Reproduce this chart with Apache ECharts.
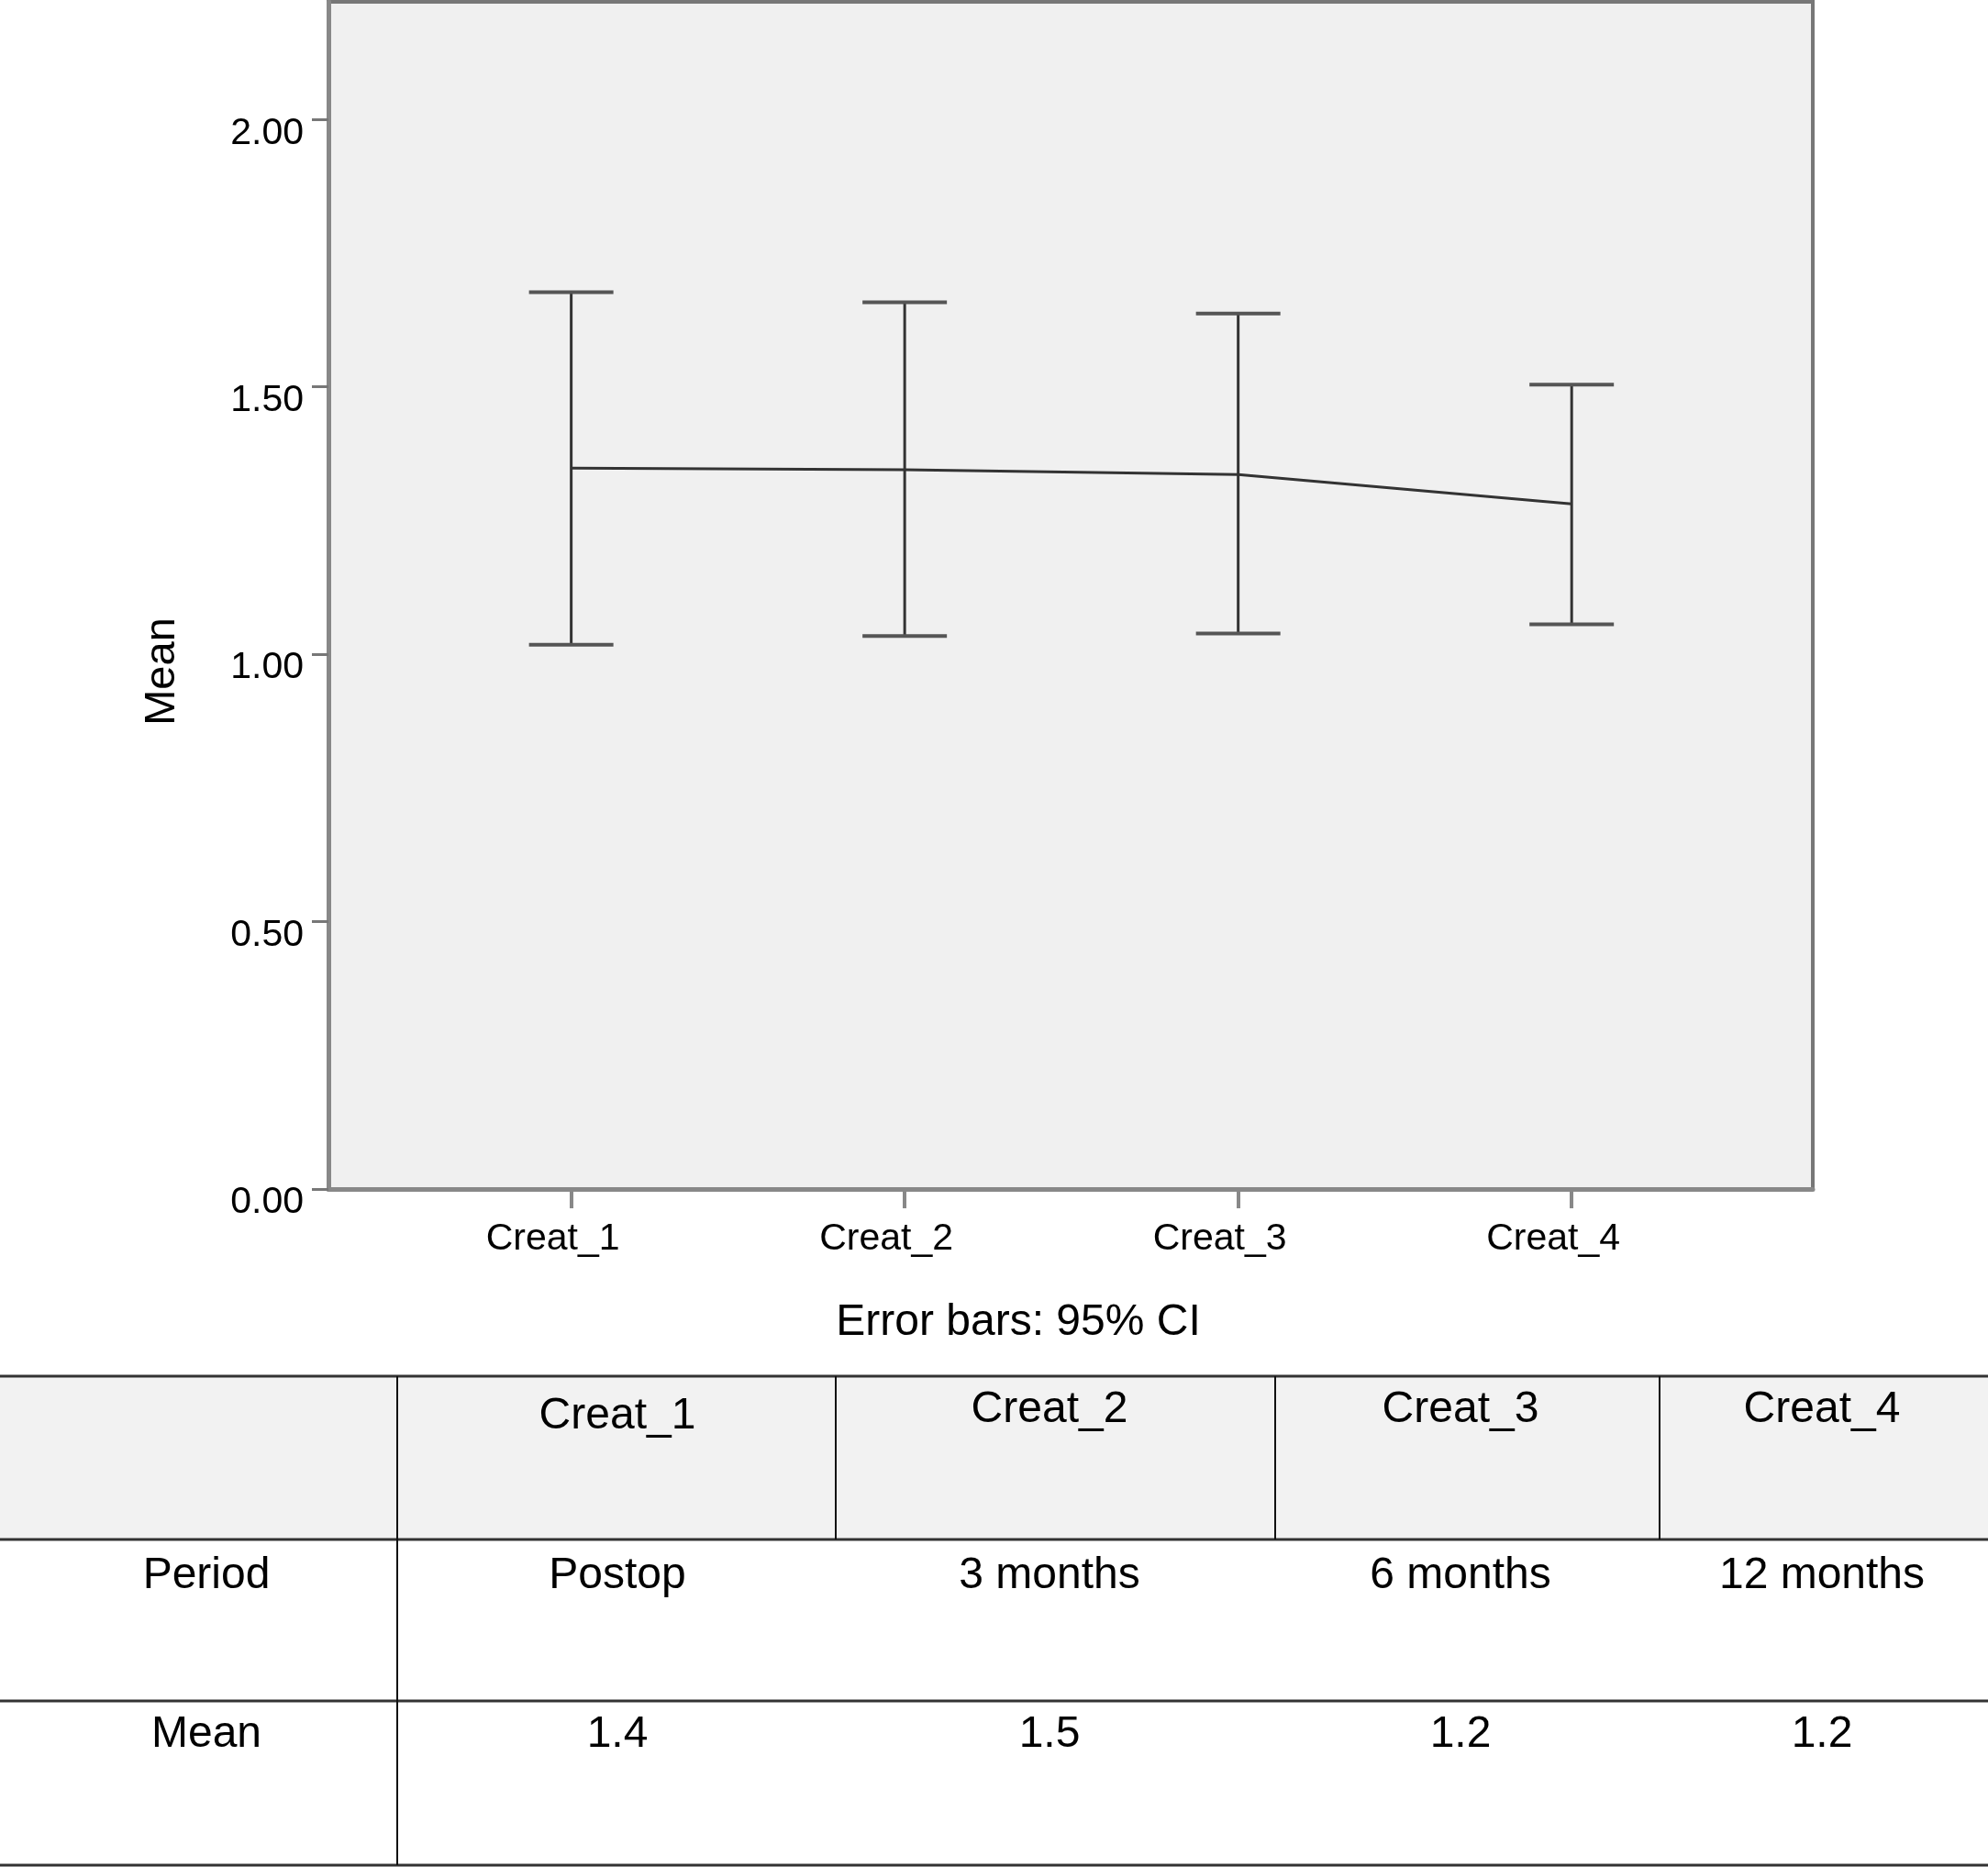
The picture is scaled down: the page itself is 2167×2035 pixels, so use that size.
<!DOCTYPE html>
<html>
<head>
<meta charset="utf-8">
<script src="https://cdn.jsdelivr.net/npm/echarts@6/dist/echarts.min.js"></script>
<style>
html,body{margin:0;padding:0;background:#fff;}
#chart{width:2167px;height:2035px;}
</style>
</head>
<body>
<div id="chart"></div>
<script>
const categories = ['Creat_1', 'Creat_2', 'Creat_3', 'Creat_4'];
const means = [1.348, 1.345, 1.336, 1.281];
const ciLower = [1.018, 1.034, 1.039, 1.056];
const ciUpper = [1.677, 1.658, 1.637, 1.504];
const yTicks = [0, 0.5, 1, 1.5, 2];
const periods = ['Postop', '3 months', '6 months', '12 months'];
const tableMeans = ['1.4', '1.5', '1.2', '1.2'];
const rowLabels = ['Period', 'Mean'];

const FONT = '"Liberation Sans", Arial, Helvetica, sans-serif';
const chart = echarts.init(document.getElementById('chart'), null, {renderer: 'canvas'});

const colX = [673, 1144, 1592, 1986];
const headerY = [1544, 1537, 1537, 1537];
const graphics = [];
graphics.push({type: 'rect', shape: {x: 0, y: 1500, width: 2167, height: 178}, style: {fill: '#f2f2f2'}, z: 0});
[1500, 1678, 1854, 2033].forEach(y => graphics.push({
  type: 'line', shape: {x1: 0, y1: y, x2: 2167, y2: y}, style: {stroke: '#333', lineWidth: 3}, z: 2
}));
graphics.push({type: 'line', shape: {x1: 433, y1: 1500, x2: 433, y2: 2033}, style: {stroke: '#111', lineWidth: 2}, z: 2});
[911, 1390, 1809].forEach(x => graphics.push({
  type: 'line', shape: {x1: x, y1: 1500, x2: x, y2: 1678}, style: {stroke: '#111', lineWidth: 2}, z: 2
}));
function txt(t, x, y, size) {
  return {type: 'text', x: x, y: y, z: 3, style: {text: t, fill: '#000', font: size + 'px ' + FONT, textAlign: 'center', textVerticalAlign: 'middle'}};
}
categories.forEach((c, i) => graphics.push(txt(c, colX[i], headerY[i], 48)));
periods.forEach((p, i) => graphics.push(txt(p, colX[i], 1718, 48)));
tableMeans.forEach((m, i) => graphics.push(txt(m, colX[i], 1891, 48)));
graphics.push(txt(rowLabels[0], 225, 1718, 48));
graphics.push(txt(rowLabels[1], 225, 1891, 48));
graphics.push(txt('Error bars: 95% CI', 1110, 1442, 48));
const meanTitle = txt('Mean', 177, 732, 47);
meanTitle.rotation = Math.PI / 2;
graphics.push(meanTitle);

const option = {
  animation: false,
  backgroundColor: '#fff',
  grid: {
    left: 358, right: 191, top: 2, bottom: 739,
    show: true, backgroundColor: '#f0f0f0', borderColor: '#777', borderWidth: 4,
    outerBoundsMode: 'none'
  },
  xAxis: {
    type: 'value', min: -0.728, max: 3.723,
    splitLine: {show: false},
    axisLine: {show: true, onZero: false, lineStyle: {color: '#888', width: 5}},
    axisTick: {show: true, customValues: [0, 1, 2, 3], length: 21, lineStyle: {color: '#888', width: 4}},
    axisLabel: {
      customValues: [0, 1, 2, 3],
      formatter: v => categories[Math.round(v)],
      color: '#000', fontSize: 41, fontFamily: FONT, margin: 34,
      padding: [0, 40, 0, 0]
    }
  },
  yAxis: {
    type: 'value', min: 0, max: 2.22,
    splitLine: {show: false},
    axisLine: {show: true, onZero: false, lineStyle: {color: '#888', width: 5}},
    axisTick: {show: true, customValues: yTicks, length: 18, lineStyle: {color: '#777', width: 3}},
    axisLabel: {
      customValues: yTicks,
      formatter: v => v.toFixed(2),
      color: '#000', fontSize: 41, fontFamily: FONT, margin: 27,
      verticalAlign: 'top', lineHeight: 30
    }
  },
  series: [
    {
      type: 'custom',
      data: categories.map((c, i) => [i, ciLower[i], ciUpper[i]]),
      z: 3,
      renderItem: function (params, api) {
        const x = api.value(0);
        const pLo = api.coord([x, api.value(1)]);
        const pHi = api.coord([x, api.value(2)]);
        const half = 46;
        return {
          type: 'group',
          children: [
            {type: 'line', shape: {x1: pLo[0], y1: pLo[1], x2: pHi[0], y2: pHi[1]}, style: {stroke: '#333', lineWidth: 3}},
            {type: 'line', shape: {x1: pHi[0] - half, y1: pHi[1], x2: pHi[0] + half, y2: pHi[1]}, style: {stroke: '#555', lineWidth: 4}},
            {type: 'line', shape: {x1: pLo[0] - half, y1: pLo[1], x2: pLo[0] + half, y2: pLo[1]}, style: {stroke: '#555', lineWidth: 4}}
          ]
        };
      }
    },
    {
      type: 'line',
      data: means.map((m, i) => [i, m]),
      symbol: 'none',
      z: 4,
      lineStyle: {color: '#333', width: 3}
    }
  ],
  graphic: graphics
};
chart.setOption(option);
</script>
</body>
</html>
